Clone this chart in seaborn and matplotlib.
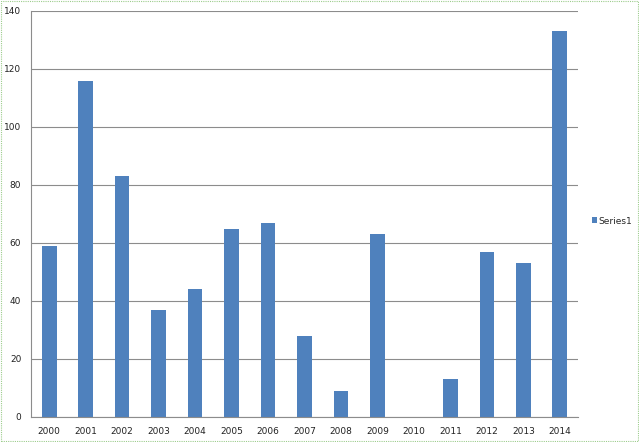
import matplotlib
matplotlib.use("Agg")
import matplotlib.pyplot as plt
import seaborn as sns
import pandas as pd
from matplotlib.patches import Rectangle
from matplotlib.ticker import FixedLocator, MultipleLocator

years = ["2000", "2001", "2002", "2003", "2004", "2005", "2006", "2007",
         "2008", "2009", "2010", "2011", "2012", "2013", "2014"]
values = [59, 116, 83, 37, 44, 65, 67, 28, 9, 63, 0, 13, 57, 53, 133]
series_name = "Series1"

df = pd.DataFrame({"year": years, "value": values, "series": series_name})

sns.set_style("white")
plt.rcParams["font.family"] = ["DejaVu Sans"]

fig = plt.figure(figsize=(6.39, 4.42), dpi=100)
ax = fig.add_axes([31 / 639, 25 / 442, 547 / 639, 406 / 442])

sns.barplot(data=df, x="year", y="value", hue="series", palette=["#4F81BD"],
            saturation=1, width=0.4, linewidth=0, ax=ax, legend=True)

ax.set_ylim(0, 140)
ax.set_xlim(-0.5, len(years) - 0.5)
ax.yaxis.set_major_locator(MultipleLocator(20))
ax.yaxis.grid(True, color="#8c8c8c", linewidth=0.8)
ax.set_axisbelow(True)
ax.set_xlabel("")
ax.set_ylabel("")

for s in ["top", "right"]:
    ax.spines[s].set_visible(False)
for s in ["left", "bottom"]:
    ax.spines[s].set_color("#8c8c8c")
    ax.spines[s].set_linewidth(0.8)

ax.tick_params(axis="y", direction="out", length=4, width=0.8, color="#8c8c8c",
               labelsize=6.5, pad=3, labelcolor="#222222")
ax.tick_params(axis="x", which="major", length=0, labelsize=6.5, pad=7,
               labelcolor="#222222")
ax.xaxis.set_minor_locator(FixedLocator([i - 0.5 for i in range(len(years) + 1)]))
ax.tick_params(axis="x", which="minor", direction="out", length=4, width=0.8,
               color="#8c8c8c")

leg = ax.legend(loc="center left", bbox_to_anchor=(588 / 639, 221 / 442),
                bbox_transform=fig.transFigure, frameon=False, fontsize=6.5,
                handlelength=0.6, handleheight=0.6, handletextpad=0.2,
                borderaxespad=0)

fig.patches.append(Rectangle((0.001, 0.002), 0.997, 0.995, transform=fig.transFigure,
                             fill=False, edgecolor="#9ccc8c", linestyle=(0, (1, 1)),
                             linewidth=0.8))

fig.savefig("out.png", dpi=100)
